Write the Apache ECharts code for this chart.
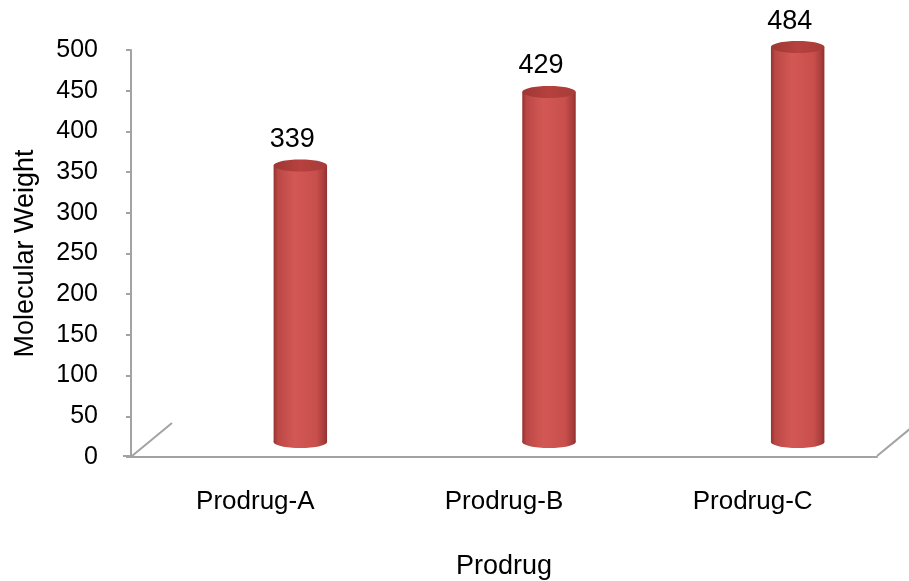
<!DOCTYPE html>
<html>
<head>
<meta charset="utf-8">
<script src="https://cdn.jsdelivr.net/npm/echarts@6/dist/echarts.min.js"></script>
<style>
  html, body { margin: 0; padding: 0; background: #fff; }
  #chart { width: 909px; height: 581px; }
</style>
</head>
<body>
<div id="chart"></div>
<script>
/* Molecular weight of prodrugs, 3D-style cylinder bars. */

const categories = ["Prodrug-A", "Prodrug-B", "Prodrug-C"];
const weights = [339, 429, 484];
const yMin = 0;
const yMax = 500;
const yStep = 50;

const FONT = "'Liberation Sans', Arial, sans-serif";
const AXIS_GRAY = "#a3a3a3";

// front plane (visible axes) and back plane (where the cylinders stand)
const frontGrid = { left: 131, right: 32, top: 50, bottom: 124, outerBoundsMode: "none", containLabel: false };
const backGrid = { left: 176, width: 746, top: 34, height: 408, outerBoundsMode: "none", containLabel: false };
const depth = [40, -33];
const BAR_RATIO = 0.215;

const chart = echarts.init(document.getElementById("chart"));

function renderCylinder(params, api) {
  const idx = api.value(0);
  const val = api.value(1);
  const top = api.coord([idx, val]);
  const base = api.coord([idx, 0]);
  const w = api.size([1, 0])[0] * BAR_RATIO;
  const rx = w / 2;
  const ry = 6;
  const body = new echarts.graphic.LinearGradient(0, 0, 1, 0, [
    { offset: 0, color: "#953330" },
    { offset: 0.08, color: "#bb4845" },
    { offset: 0.4, color: "#d35855" },
    { offset: 0.8, color: "#c84f4c" },
    { offset: 0.94, color: "#a83d3b" },
    { offset: 1, color: "#90312f" },
  ]);
  const cap = new echarts.graphic.LinearGradient(0, 0, 1, 0, [
    { offset: 0, color: "#9e3734" },
    { offset: 0.5, color: "#b7413e" },
    { offset: 1, color: "#a63c39" },
  ]);
  return {
    type: "group",
    children: [
      { type: "ellipse", shape: { cx: base[0], cy: base[1], rx: rx, ry: ry }, style: { fill: body } },
      { type: "rect", shape: { x: top[0] - rx, y: top[1], width: w, height: base[1] - top[1] }, style: { fill: body } },
      { type: "ellipse", shape: { cx: top[0], cy: top[1], rx: rx, ry: ry }, style: { fill: cap } },
      {
        type: "text",
        x: top[0] - 8,
        y: top[1] - 26,
        style: { text: String(val), fill: "#000", font: "27px " + FONT, align: "center", verticalAlign: "middle" },
      },
    ],
  };
}

// floor edges of the 3D box, derived from the front grid
const W = 909, H = 581;
const floorY = H - frontGrid.bottom - 1;
const fl = frontGrid.left + 1;
const fr = W - frontGrid.right;
const lineStyle = { stroke: AXIS_GRAY, lineWidth: 2 };

chart.setOption({
  animation: false,
  backgroundColor: "#fff",
  textStyle: { fontFamily: FONT },
  grid: [
    Object.assign({}, frontGrid),
    Object.assign({}, backGrid),
  ],
  xAxis: [
    {
      type: "category",
      gridIndex: 0,
      data: categories,
      axisLine: { lineStyle: { color: AXIS_GRAY, width: 2 } },
      axisTick: { show: false },
      axisLabel: { color: "#000", fontSize: 26, margin: 32 },
      name: "Prodrug",
      nameLocation: "middle",
      nameGap: 96,
      nameTextStyle: { color: "#000", fontSize: 27 },
    },
    { type: "category", gridIndex: 1, data: categories, show: false },
  ],
  yAxis: [
    {
      type: "value",
      gridIndex: 0,
      min: yMin,
      max: yMax,
      interval: yStep,
      axisLine: { show: true, lineStyle: { color: AXIS_GRAY, width: 2 } },
      axisTick: { show: true, length: 5, lineStyle: { color: AXIS_GRAY, width: 2 } },
      splitLine: { show: false },
      axisLabel: { color: "#000", fontSize: 25, margin: 33 },
      name: "Molecular Weight",
      nameLocation: "middle",
      nameGap: 92,
      nameRotate: 90,
      nameTextStyle: { color: "#000", fontSize: 27 },
    },
    { type: "value", gridIndex: 1, min: yMin, max: yMax, show: false },
  ],
  graphic: [
    { type: "line", shape: { x1: fl, y1: floorY, x2: fl + depth[0], y2: floorY + depth[1] }, style: lineStyle },
    { type: "line", shape: { x1: fr, y1: floorY, x2: fr + depth[0], y2: floorY + depth[1] }, style: lineStyle },
    { type: "line", shape: { x1: fl - 9, y1: floorY, x2: fl, y2: floorY }, style: lineStyle },
  ],
  series: [
    {
      type: "custom",
      xAxisIndex: 1,
      yAxisIndex: 1,
      renderItem: renderCylinder,
      data: categories.map((c, i) => [i, weights[i]]),
    },
  ],
});
</script>
</body>
</html>
